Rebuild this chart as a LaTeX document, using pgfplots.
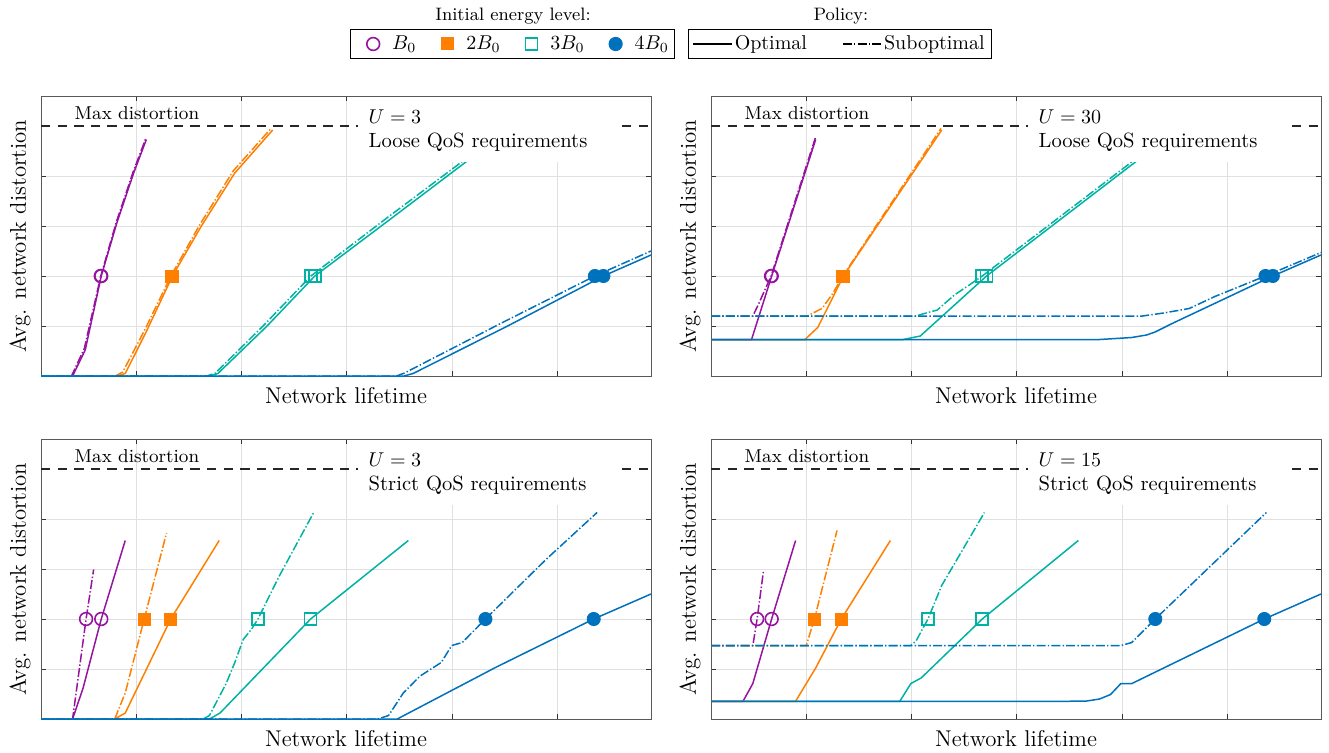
\documentclass[border=0pt]{standalone}
\usepackage{pgfplots}
\pgfplotsset{compat=1.18}
\definecolor{cP}{RGB}{150,20,160}
\definecolor{cO}{RGB}{255,128,0}
\definecolor{cT}{RGB}{0,178,164}
\definecolor{cB}{RGB}{0,114,189}
\pgfplotsset{
 panel/.style={
  scale only axis, width=305pt, height=140pt,
  xmin=0, xmax=100, ymin=0, ymax=5.6,
  xtick={15.7,32.9,50.1,67.4,84.6}, ytick={1,2,3,4},
  xticklabels={}, yticklabels={},
  grid=major, major grid style={black!12, line width=0.4pt},
  tick align=inside, major tick length=2.6pt,
  tick style={black!80, line width=0.4pt},
  axis line style={black!65, line width=0.5pt},
  xlabel={Network lifetime}, ylabel={Avg. network distortion},
  every axis label/.append style={font=\fontsize{11.4}{13}\selectfont},
  xlabel style={at={(axis description cs:0.5,-0.039)}, anchor=north, inner sep=0pt},
  ylabel style={at={(axis description cs:-0.0164,0.5)}, anchor=south, inner sep=0pt},
 },
 opt/.style={line width=0.75pt, solid},
 sub/.style={line width=0.75pt, dash pattern=on 4.5pt off 1.1pt on 0.7pt off 1.1pt},
 maxd/.style={black!85, line width=0.55pt, dash pattern=on 4.7pt off 3.6pt},
 mP/.style={only marks, mark=o, mark size=3.2pt, cP, mark options={line width=0.8pt}},
 mO/.style={only marks, mark=square*, mark size=3pt, cO},
 mT/.style={only marks, mark=square, mark size=3pt, cT, mark options={line width=0.8pt}},
 mB/.style={only marks, mark=*, mark size=3.3pt, cB},
 mlegend/.style={legend image code/.code={\path[draw=none,fill=none] (-9.5pt,0pt) (8.5pt,0pt); \draw[##1] plot coordinates {(0pt,0pt)};}},
 llegend/.style={legend image code/.code={\draw[##1] plot coordinates {(0pt,0pt) (19.3pt,0pt)};}},
}
\newcommand{\maxlabel}{\node[anchor=base west, inner sep=0pt, font=\fontsize{9.3}{11}\selectfont] at (axis description cs:0.0546,0.917) {Max distortion};}
\newcommand{\infobox}[2]{%
 \fill[white] (axis description cs:0.5197,0.764) rectangle (axis description cs:0.9525,0.996);
 \node[anchor=base west, inner sep=0pt, font=\fontsize{10.3}{12}\selectfont] at (axis description cs:0.5366,0.9025) {$U=#1$};
 \node[anchor=base west, inner sep=0pt, font=\fontsize{10.3}{12}\selectfont] at (axis description cs:0.5366,0.8155) {#2};}
\begin{document}
\begin{tikzpicture}
\useasboundingbox (0,0) rectangle (664.5pt,376pt);
% ---------------- legends ----------------
\begin{axis}[at={(0pt,0pt)}, anchor=south west, scale only axis, width=664.5pt, height=376pt,
 xmin=0, xmax=1, ymin=0, ymax=1, hide axis,
 legend columns=4,
 legend style={at={(axis description cs:0.3856,0.9415)}, anchor=center, draw=black, line width=0.5pt,
  inner xsep=2pt, inner ysep=0.8pt, nodes={inner xsep=1pt, inner ysep=2.4pt},
  font=\fontsize{10}{12}\selectfont, /tikz/every even column/.append style={column sep=5pt}}]
\addlegendimage{mlegend, mP}
\addlegendentry{$B_0$}
\addlegendimage{mlegend, mO}
\addlegendentry{$2B_0$}
\addlegendimage{mlegend, mT}
\addlegendentry{$3B_0$}
\addlegendimage{mlegend, mB}
\addlegendentry{$4B_0$}
\node[anchor=base, font=\fontsize{9}{11}\selectfont] at (axis description cs:0.386,0.9725) {Initial energy level:};
\node[anchor=base, font=\fontsize{9}{11}\selectfont] at (axis description cs:0.6328,0.9725) {Policy:};
\end{axis}
\begin{axis}[at={(0pt,0pt)}, anchor=south west, scale only axis, width=664.5pt, height=376pt,
 xmin=0, xmax=1, ymin=0, ymax=1, hide axis,
 legend columns=2,
 legend style={at={(axis description cs:0.6318,0.9415)}, anchor=center, draw=black, line width=0.5pt,
  inner xsep=2.2pt, inner ysep=0.8pt, nodes={inner xsep=1pt, inner ysep=2.4pt},
  font=\fontsize{10}{12}\selectfont, /tikz/every even column/.append style={column sep=16.5pt}}]
\addlegendimage{llegend, black, opt}
\addlegendentry{Optimal}
\addlegendimage{llegend, black, sub}
\addlegendentry{Suboptimal}
\end{axis}
% ---------------- top left ----------------
\begin{axis}[panel, at={(20.5pt,188pt)}, anchor=south west]
\addplot[maxd] coordinates {(0,5) (100,5)};
\addplot[cP, sub] coordinates {(0,0) (5.0,0) (7.1,0.55) (9.8,2.0) (12.35,3.08) (15.1,4.08) (17.2,4.76)};
\addplot[cP, opt] coordinates {(0,0) (5.18,0) (7.25,0.52) (9.88,2.0) (12.43,3.06) (15.19,4.06) (17.27,4.73)};
\addplot[cO, sub] coordinates {(0,0) (12.2,0) (13.4,0.08) (17.0,0.92) (21.3,2.0) (26.0,3.02) (31.5,4.1) (37.7,4.95)};
\addplot[cO, opt] coordinates {(0,0) (12.43,0) (13.81,0.05) (17.27,0.89) (21.55,2.0) (26.24,2.99) (31.77,4.06) (37.98,4.92)};
\addplot[cT, sub] coordinates {(0,0) (27.2,0) (28.6,0.06) (36.4,1.0) (44.25,2.0) (56.8,3.17) (69.5,4.33)};
\addplot[cT, opt] coordinates {(0,0) (27.62,0) (29.0,0.05) (36.9,0.98) (44.89,2.0) (57.3,3.14) (69.75,4.29)};
\addplot[cB, sub] coordinates {(0,0) (58.3,0) (59.6,0.06) (75.5,1.06) (90.8,2.0) (100,2.5)};
\addplot[cB, opt] coordinates {(0,0) (59.5,0) (61.0,0.05) (76.5,1.0) (92.2,2.0) (100,2.42)};
\addplot[mP] coordinates {(9.8,2) (9.88,2)};
\addplot[mO] coordinates {(21.3,2) (21.55,2)};
\addplot[mT] coordinates {(44.25,2) (44.89,2)};
\addplot[mB] coordinates {(90.8,2) (92.2,2)};
\maxlabel
\infobox{3}{Loose QoS requirements}
\end{axis}
% ---------------- top right ----------------
\begin{axis}[panel, at={(355.5pt,188pt)}, anchor=south west]
\addplot[maxd] coordinates {(0,5) (100,5)};
\addplot[cP, sub] coordinates {(0,1.2) (6.86,1.2) (7.84,1.45) (9.85,2.0) (17.1,4.76)};
\addplot[cP, opt] coordinates {(0,0.73) (6.65,0.73) (9.95,2.0) (17.16,4.73)};
\addplot[cO, sub] coordinates {(0,1.2) (15.76,1.2) (18.2,1.35) (19.96,1.65) (21.6,2.0) (37.7,4.95)};
\addplot[cO, opt] coordinates {(0,0.73) (15.41,0.73) (17.5,0.97) (21.71,2.0) (37.82,4.92)};
\addplot[cT, sub] coordinates {(0,1.2) (33.6,1.2) (35.0,1.25) (37.1,1.32) (39.9,1.62) (42.7,1.85) (44.47,2.0) (69.5,4.33)};
\addplot[cT, opt] coordinates {(0,0.73) (31.51,0.73) (34.31,0.80) (45.17,2.0) (69.68,4.29)};
\addplot[cB, sub] coordinates {(0,1.2) (70.73,1.2) (74.2,1.26) (78.4,1.35) (82.6,1.59) (90.9,2.0) (100,2.47)};
\addplot[cB, opt] coordinates {(0,0.73) (63.73,0.73) (68.98,0.77) (71.4,0.82) (72.8,0.88) (75.6,1.05) (92.1,2.0) (100,2.42)};
\addplot[mP] coordinates {(9.85,2) (9.95,2)};
\addplot[mO] coordinates {(21.6,2) (21.71,2)};
\addplot[mT] coordinates {(44.47,2) (45.17,2)};
\addplot[mB] coordinates {(90.9,2) (92.1,2)};
\maxlabel
\infobox{30}{Loose QoS requirements}
\end{axis}
% ---------------- bottom left ----------------
\begin{axis}[panel, at={(20.5pt,16.5pt)}, anchor=south west]
\addplot[maxd] coordinates {(0,5) (100,5)};
\addplot[cP, sub] coordinates {(0,0) (5.18,0) (7.39,2.0) (8.63,2.99)};
\addplot[cP, opt] coordinates {(0,0) (5.18,0) (6.9,0.62) (9.88,2.0) (13.81,3.57)};
\addplot[cO, sub] coordinates {(0,0) (12.09,0) (13.81,0.52) (16.92,2.0) (20.58,3.72)};
\addplot[cO, opt] coordinates {(0,0) (12.09,0) (13.81,0.12) (21.27,2.0) (29.21,3.57)};
\addplot[cT, sub] coordinates {(0,0) (26.59,0) (27.62,0.07) (30.39,0.72) (31.77,1.13) (33.15,1.59) (34.53,1.80) (35.57,2.0) (39.02,2.85) (44.75,4.14)};
\addplot[cT, opt] coordinates {(0,0) (27.62,0) (29.35,0.12) (44.2,2.0) (60.22,3.57)};
\addplot[cB, sub] coordinates {(0,0) (55.25,0) (56.98,0.07) (59.39,0.52) (62.15,0.86) (65.61,1.13) (67.33,1.47) (69.06,1.53) (72.86,2.0) (82.87,3.2) (91.16,4.13)};
\addplot[cB, opt] coordinates {(0,0) (58.4,0) (74.5,1.03) (90.61,2.0) (100,2.5)};
\addplot[mP] coordinates {(7.39,2) (9.88,2)};
\addplot[mO] coordinates {(16.92,2) (21.27,2)};
\addplot[mT] coordinates {(35.57,2) (44.2,2)};
\addplot[mB] coordinates {(72.86,2) (90.61,2)};
\maxlabel
\infobox{3}{Strict QoS requirements}
\end{axis}
% ---------------- bottom right ----------------
\begin{axis}[panel, at={(355.5pt,16.5pt)}, anchor=south west]
\addplot[maxd] coordinates {(0,5) (100,5)};
\addplot[cP, sub] coordinates {(0,1.47) (6.86,1.47) (7.56,2.0) (8.61,2.97)};
\addplot[cP, opt] coordinates {(0,0.355) (5.25,0.355) (6.86,0.71) (9.94,2.0) (13.87,3.57)};
\addplot[cO, sub] coordinates {(0,1.47) (15.62,1.47) (16.95,2.0) (20.66,3.77)};
\addplot[cO, opt] coordinates {(0,0.355) (13.87,0.355) (17.16,1.02) (21.36,2.0) (29.41,3.57)};
\addplot[cT, sub] coordinates {(0,1.47) (32.77,1.47) (33.61,1.56) (35.57,2.0) (37.82,2.67) (44.82,4.13)};
\addplot[cT, opt] coordinates {(0,0.355) (30.95,0.355) (32.77,0.71) (34.45,0.82) (44.47,2.0) (60.22,3.57)};
\addplot[cB, sub] coordinates {(0,1.47) (67.23,1.47) (68.98,1.53) (72.83,2.0) (91.04,4.13)};
\addplot[cB, opt] coordinates {(0,0.355) (58.8,0.355) (61.6,0.36) (63.7,0.40) (65.5,0.49) (67.2,0.71) (69.0,0.71) (90.7,2.0) (100,2.5)};
\addplot[mP] coordinates {(7.56,2) (9.94,2)};
\addplot[mO] coordinates {(16.95,2) (21.36,2)};
\addplot[mT] coordinates {(35.57,2) (44.47,2)};
\addplot[mB] coordinates {(72.83,2) (90.7,2)};
\maxlabel
\infobox{15}{Strict QoS requirements}
\end{axis}
\end{tikzpicture}
\end{document}
